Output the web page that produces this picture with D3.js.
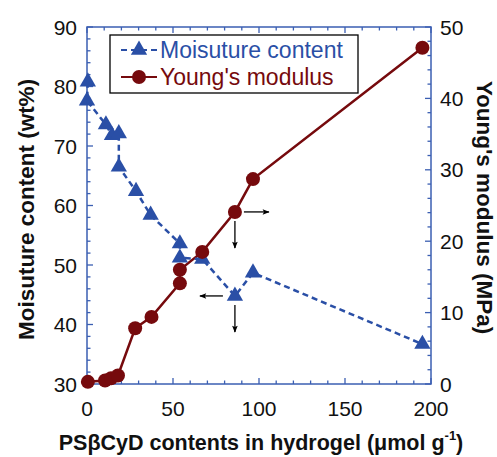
<!DOCTYPE html>
<html>
<head>
<meta charset="utf-8">
<script src="https://cdn.jsdelivr.net/npm/d3@7"></script>
<style>
  body { margin: 0; background: #fff; }
  svg { display: block; font-family: "Liberation Sans", Arial, Helvetica, sans-serif; }
  .tick-label { font-size: 21px; fill: #111; }
  .axis-title { font-size: 22.5px; font-weight: bold; fill: #111; }
  .legend-text { font-size: 23px; }
</style>
</head>
<body>
<div id="chart"></div>
<script>
// PSbCyD content (umol/g) and measured values
const moistureX = [0.5, 0, 11, 14.5, 18.5, 18.5, 28.5, 37, 54, 54, 67, 86, 96.5, 195];
const moistureY = [80.8, 77.6, 73.6, 71.8, 72.1, 66.5, 62.4, 58.4, 53.6, 51.2, 51.0, 44.8, 48.7, 36.7];

const modulusX = [0.5, 10.5, 14, 18, 28, 37.5, 54, 54, 67, 86, 96.5, 195];
const modulusY = [0.3, 0.5, 0.8, 1.2, 7.8, 9.4, 14.1, 16.0, 18.5, 24.1, 28.7, 47.1];

const xTicks = [0, 50, 100, 150, 200];
const leftTicks = [30, 40, 50, 60, 70, 80, 90];
const rightTicks = [0, 10, 20, 30, 40, 50];

const seriesNames = ['Moisuture content', "Young's modulus"];

const W = 497, H = 457;
const margin = { top: 27, right: 66, bottom: 73, left: 87 };
const iw = 431 - margin.left, ih = 384 - margin.top;

const blue = '#2a4fa6';
const red = '#760a0d';
const frame = '#3b5fb2';

const svg = d3.select('#chart').append('svg')
  .attr('width', W).attr('height', H);

const g = svg.append('g').attr('transform', `translate(${margin.left},${margin.top})`);

const x = d3.scaleLinear().domain([0, 200]).range([0, iw]);
const yL = d3.scaleLinear().domain([30, 90]).range([ih, 0]);
const yR = d3.scaleLinear().domain([0, 50]).range([ih, 0]);

// frame
g.append('rect')
  .attr('width', iw).attr('height', ih)
  .attr('fill', 'none').attr('stroke', frame).attr('stroke-width', 1.5);

// inward ticks (major long, minor short)
function tickSet(vals, isMajor) { return vals.map(v => ({ v, major: isMajor(v) })); }
const xt = tickSet(d3.range(0, 201, 10), v => v % 50 === 0);
const lt = tickSet(d3.range(30, 91, 2), v => v % 10 === 0);
const rt = tickSet(d3.range(0, 51, 2), v => v % 10 === 0);

const ticks = g.append('g').attr('stroke', frame).attr('stroke-width', 1.3);
xt.forEach(t => {
  const len = t.major ? 6 : 3.5;
  ticks.append('line').attr('x1', x(t.v)).attr('x2', x(t.v)).attr('y1', ih).attr('y2', ih - len);
  ticks.append('line').attr('x1', x(t.v)).attr('x2', x(t.v)).attr('y1', 0).attr('y2', len);
});
lt.forEach(t => {
  const len = t.major ? 6 : 3.5;
  ticks.append('line').attr('x1', 0).attr('x2', len).attr('y1', yL(t.v)).attr('y2', yL(t.v));
});
rt.forEach(t => {
  const len = t.major ? 6 : 3.5;
  ticks.append('line').attr('x1', iw).attr('x2', iw - len).attr('y1', yR(t.v)).attr('y2', yR(t.v));
});

// tick labels
g.selectAll('.xl').data(xTicks).enter().append('text')
  .attr('class', 'tick-label').attr('x', d => x(d)).attr('y', ih + 32)
  .attr('text-anchor', 'middle').text(d => d);
g.selectAll('.ll').data(leftTicks).enter().append('text')
  .attr('class', 'tick-label').attr('x', -10).attr('y', d => yL(d) + 7.5)
  .attr('text-anchor', 'end').text(d => d);
g.selectAll('.rl').data(rightTicks).enter().append('text')
  .attr('class', 'tick-label').attr('x', iw + 9).attr('y', d => yR(d) + 7.5)
  .attr('text-anchor', 'start').text(d => d);

// axis titles
svg.append('text').attr('class', 'axis-title')
  .attr('transform', `translate(34,${margin.top + ih / 2 + 4}) rotate(-90)`)
  .attr('text-anchor', 'middle').text('Moisuture content (wt%)');
svg.append('text').attr('class', 'axis-title')
  .attr('transform', `translate(477,${margin.top + ih / 2 + 2}) rotate(90)`)
  .attr('text-anchor', 'middle').text("Young's modulus (MPa)");
const xt2 = svg.append('text').attr('class', 'axis-title')
  .attr('x', 261).attr('y', 450).attr('text-anchor', 'middle')
  .style('font-size', '21.5px');
xt2.append('tspan').text('PSβCyD contents in hydrogel (μmol g');
xt2.append('tspan').attr('dy', -10).attr('font-size', 13).text('-1');
xt2.append('tspan').attr('dy', 10).text(')');

// series
const mData = moistureX.map((v, i) => [v, moistureY[i]]);
const yData = modulusX.map((v, i) => [v, modulusY[i]]);

const tri = d3.symbol().type(d3.symbolTriangle).size(115);

g.append('path').datum(yData)
  .attr('fill', 'none').attr('stroke', red).attr('stroke-width', 2.5)
  .attr('d', d3.line().x(d => x(d[0])).y(d => yR(d[1])));

g.append('path').datum(mData)
  .attr('fill', 'none').attr('stroke', blue).attr('stroke-width', 2.5)
  .attr('stroke-dasharray', '6,4')
  .attr('d', d3.line().x(d => x(d[0])).y(d => yL(d[1])));

g.selectAll('.tri').data(mData).enter().append('path')
  .attr('d', tri).attr('fill', blue)
  .attr('transform', d => `translate(${x(d[0])},${yL(d[1])})`);

g.selectAll('.dot').data(yData).enter().append('circle')
  .attr('cx', d => x(d[0])).attr('cy', d => yR(d[1])).attr('r', 7)
  .attr('fill', red);

// arrows pointing to the axis each point belongs to
const defs = svg.append('defs');
defs.append('marker').attr('id', 'ah').attr('viewBox', '0 0 10 10')
  .attr('refX', 9).attr('refY', 5).attr('markerWidth', 10).attr('markerHeight', 7)
  .attr('markerUnits', 'userSpaceOnUse').attr('orient', 'auto')
  .append('path').attr('d', 'M0,1 L10,5 L0,9 L2,5 Z').attr('fill', '#000');

function arrow(px, py, dx, dy, gap, len) {
  g.append('line')
    .attr('x1', px + dx * gap).attr('y1', py + dy * gap)
    .attr('x2', px + dx * (gap + len)).attr('y2', py + dy * (gap + len))
    .attr('stroke', '#000').attr('stroke-width', 1.3).attr('marker-end', 'url(#ah)');
}
const ym = yData[9];
arrow(x(ym[0]), yR(ym[1]), 1, 0, 9, 25);
arrow(x(ym[0]), yR(ym[1]), 0, 1, 9, 27);
const mm = mData[11];
arrow(x(mm[0]), yL(mm[1]), -1, 0, 12, 23);
arrow(x(mm[0]), yL(mm[1]), 0, 1, 9, 27);

// legend
const lg = svg.append('g').attr('transform', 'translate(110,35)');
lg.append('rect').attr('width', 248).attr('height', 58)
  .attr('fill', '#fff').attr('stroke', '#000').attr('stroke-width', 1.3);
const rows = [
  { name: seriesNames[0], color: blue, dash: '6,4', mark: 'tri' },
  { name: seriesNames[1], color: red, dash: null, mark: 'dot' }
];
rows.forEach((r, i) => {
  const cy = 15 + i * 27;
  lg.append('line').attr('x1', 11).attr('x2', 47).attr('y1', cy).attr('y2', cy)
    .attr('stroke', r.color).attr('stroke-width', 2.2)
    .attr('stroke-dasharray', r.dash);
  if (r.mark === 'tri') {
    lg.append('path').attr('d', tri).attr('fill', r.color)
      .attr('transform', `translate(29,${cy})`);
  } else {
    lg.append('circle').attr('cx', 29).attr('cy', cy).attr('r', 7).attr('fill', r.color);
  }
  lg.append('text').attr('class', 'legend-text').attr('x', 50).attr('y', cy + 8)
    .attr('fill', r.color).text(r.name);
});
</script>
</body>
</html>
